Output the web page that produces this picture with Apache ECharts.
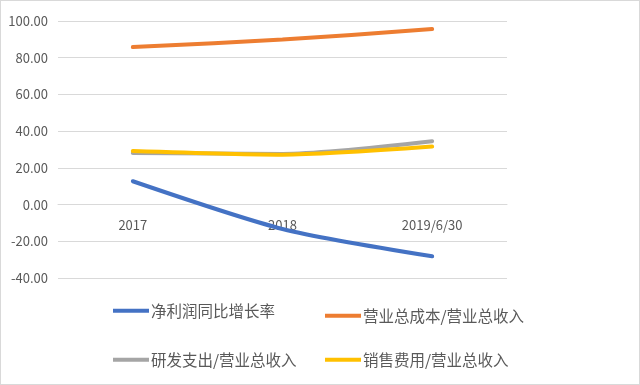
<!DOCTYPE html>
<html><head><meta charset="utf-8">
<script src="https://cdn.jsdelivr.net/npm/echarts@6/dist/echarts.min.js"></script>
<style>html,body{margin:0;padding:0;background:#fff}#c{width:638px;height:383px;border:1px solid #d9d9d9}</style>
</head><body><div id="c"></div>
<script>
var categories = ['2017', '2018', '2019/6/30'];
var netProfitGrowth = [12.7, -13.3, -28.2];
var costRatio = [85.8, 89.9, 95.6];
var rdRatio = [28.1, 27.6, 34.5];
var salesRatio = [29.2, 27.2, 31.6];
var seriesNames = ['净利润同比增长率', '营业总成本/营业总收入', '研发支出/营业总收入', '销售费用/营业总收入'];
var colors = ['#4472C4', '#ED7D31', '#A5A5A5', '#FFC000'];
var dataSets = [netProfitGrowth, costRatio, rdRatio, salesRatio];
var font = '"Noto Sans CJK SC", "Noto Sans", sans-serif';
var legendPos = [[107, 297], [319, 302], [107, 346], [319, 346]];
var chart = echarts.init(document.getElementById('c'));
chart.setOption({
  animation: false,
  textStyle: {fontFamily: font},
  grid: {left: 57, right: 132, top: 20, bottom: 106},
  legend: seriesNames.map(function (n, i) {
    return {data: [n], left: legendPos[i][0], top: legendPos[i][1], icon: 'rect', itemWidth: 36, itemHeight: 4,
      itemGap: 0, textStyle: {fontSize: 15.5, color: '#595959', fontFamily: font, padding: [0, 0, 0, -3]}};
  }),
  xAxis: {type: 'category', data: categories, boundaryGap: true,
    axisLine: {show: true, onZero: true, lineStyle: {color: '#d9d9d9'}},
    axisTick: {show: false},
    axisLabel: {color: '#595959', fontSize: 13, margin: -59}},
  yAxis: {type: 'value', min: -40, max: 100, interval: 20,
    axisLabel: {color: '#595959', fontSize: 13, margin: 10, formatter: function (v) { return v.toFixed(2); }},
    axisLine: {show: false}, axisTick: {show: false},
    splitLine: {lineStyle: {color: '#d9d9d9'}}},
  series: seriesNames.map(function (n, i) {
    return {name: n, type: 'line', data: dataSets[i], smooth: 0.25, symbol: 'none',
      lineStyle: {color: colors[i], width: 4, cap: 'round'}, itemStyle: {color: colors[i]}};
  })
});
</script></body></html>
